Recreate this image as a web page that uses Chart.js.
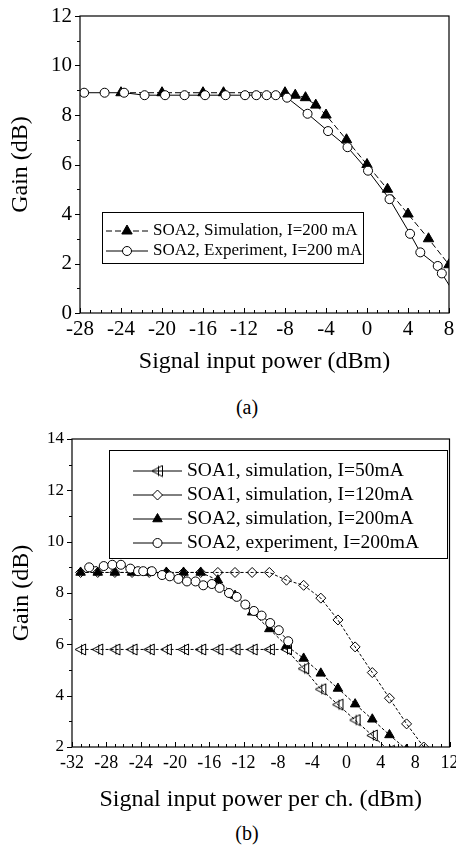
<!DOCTYPE html>
<html>
<head>
<meta charset="utf-8">
<script src="https://cdn.jsdelivr.net/npm/chart.js@4.4.0/dist/chart.umd.min.js"></script>
<style>
  body { margin: 0; background: #fff; overflow: hidden; }
  #page { position: relative; width: 456px; height: 845px; }
  #chartA { position: absolute; left: 0; top: 0; }
  #chartB { position: absolute; left: 0; top: 420px; }
  .cap { position: absolute; left: 217px; width: 60px; text-align: center;
         font: 20px "Liberation Serif", serif; line-height: 24px; }
</style>
</head>
<body>
<div id="page">
  <canvas id="chartA" width="456" height="378"></canvas>
  <div class="cap" style="top:395px">(a)</div>
  <canvas id="chartB" width="456" height="400"></canvas>
  <div class="cap" style="top:821px">(b)</div>
</div>
<script>
// ---- data (a): SOA2, I=200 mA
var simA_x = [-24, -20, -16, -14, -8, -7, -6, -5, -4, -2, 0, 2, 4, 6, 8]
var simA_y = [8.9, 8.9, 8.9, 8.9, 8.9, 8.8, 8.7, 8.4, 8.0, 7.0, 6.0, 5.0, 4.0, 3.0, 1.95]
var expA_x = [-27.6, -25.6, -23.7, -21.7, -19.7, -17.8, -15.8, -13.8, -11.9, -10.8, -9.8, -8.9, -7.8, -5.8, -3.8, -1.9, 0.1, 2.2, 4.2, 5.2, 6.9, 7.3, 8.5]
var expA_y = [8.9, 8.9, 8.9, 8.8, 8.8, 8.8, 8.8, 8.8, 8.8, 8.8, 8.8, 8.8, 8.7, 8.05, 7.35, 6.7, 5.75, 4.6, 3.2, 2.45, 1.9, 1.6, 0.8]
var xTicksA = [-28, -24, -20, -16, -12, -8, -4, 0, 4, 8]
var yTicksA = [0, 2, 4, 6, 8, 10, 12]

// ---- data (b)
var soa1_50_x = [-31, -29, -27, -25, -23, -21, -19, -17, -15, -13, -11, -9, -7, -5, -3, -1, 1, 3, 5]
var soa1_50_y = [5.8, 5.8, 5.8, 5.8, 5.8, 5.8, 5.8, 5.8, 5.8, 5.8, 5.8, 5.8, 5.8, 5.05, 4.25, 3.65, 3.05, 2.45, 1.85]
var soa1_120_x = [-31, -29, -27, -25, -23, -21, -19, -17, -15, -13, -11, -9, -7, -5, -3, -1, 1, 3, 5, 7, 9]
var soa1_120_y = [8.8, 8.8, 8.8, 8.8, 8.8, 8.8, 8.8, 8.8, 8.8, 8.8, 8.8, 8.8, 8.5, 8.3, 7.8, 6.95, 5.9, 4.9, 3.9, 2.9, 2.0]
var soa2_sim_x = [-31, -29, -27, -25, -23, -21, -19, -17, -15, -13, -11, -9, -7, -5, -3, -1, 1, 3, 5, 7]
var soa2_sim_y = [8.8, 8.8, 8.8, 8.8, 8.8, 8.8, 8.8, 8.8, 8.5, 7.9, 7.25, 6.6, 5.95, 5.45, 4.87, 4.28, 3.67, 3.08, 2.47, 1.9]
var soa2_exp_x = [-30, -28.3, -27.3, -26.3, -25.2, -24.3, -23.7, -22.7, -21.5, -20.6, -19.6, -18.6, -17.6, -16.7, -15.7, -14.8, -13.7, -12.8, -11.8, -10.8, -9.9, -8.9, -7.9, -6.8]
var soa2_exp_y = [9.0, 9.05, 9.1, 9.1, 8.95, 8.85, 8.85, 8.85, 8.7, 8.65, 8.55, 8.45, 8.45, 8.3, 8.35, 8.2, 8.0, 7.85, 7.55, 7.3, 7.12, 6.83, 6.55, 6.12]
var xTicksB = [-32, -28, -24, -20, -16, -12, -8, -4, 0, 4, 8, 12]
var yTicksB = [2, 4, 6, 8, 10, 12, 14]

Chart.defaults.font.family = '"Liberation Serif", "Times New Roman", serif'
Chart.defaults.color = '#000'

function pts(xs, ys) {
    return xs.map(function (x, i) { return { x: x, y: ys[i] } })
}

// open left triangle with a bar through it
function leftTri() {
    var c = document.createElement('canvas')
    c.width = 13; c.height = 13
    var g = c.getContext('2d')
    g.strokeStyle = '#000'
    g.lineWidth = 1
    g.beginPath()
    g.moveTo(1, 6.5); g.lineTo(11.5, 1); g.lineTo(11.5, 12); g.closePath()
    g.stroke()
    g.beginPath()
    g.moveTo(7.5, 1.5); g.lineTo(7.5, 11.5)
    g.stroke()
    return c
}

// frame + ticks (x inward, y outward)
var frameTicks = {
    id: 'frameTicks',
    afterDatasetsDraw(chart, args, o) {
        var ctx = chart.ctx, a = chart.chartArea
        var xs = chart.scales.x, ys = chart.scales.y
        ctx.save()
        ctx.strokeStyle = '#000'
        ctx.lineWidth = 1.2
        ctx.strokeRect(a.left, a.top, a.right - a.left, a.bottom - a.top)
        ctx.lineWidth = 1
        ctx.beginPath()
        for (var v = xs.min; v <= xs.max + 1e-6; v += 1) {
            var px = Math.round(xs.getPixelForValue(v)) + 0.5
            var len = (Math.abs(v - xs.min) % 4 < 1e-6) ? 5 : 3
            ctx.moveTo(px, a.bottom); ctx.lineTo(px, a.bottom - len)
        }
        for (var w = ys.min; w <= ys.max + 1e-6; w += 1) {
            var py = Math.round(ys.getPixelForValue(w)) + 0.5
            var l2 = (Math.abs(w - ys.min) % 2 < 1e-6) ? 5 : 3
            ctx.moveTo(a.left, py); ctx.lineTo(a.left - l2, py)
        }
        ctx.stroke()
        ctx.restore()
    }
}

var boxLegend = {
    id: 'boxLegend',
    afterDraw(chart, args, o) {
        var ctx = chart.ctx
        ctx.save()
        ctx.fillStyle = '#fff'
        ctx.fillRect(o.box[0], o.box[1], o.box[2] - o.box[0], o.box[3] - o.box[1])
        ctx.strokeStyle = '#000'
        ctx.lineWidth = 1
        ctx.strokeRect(o.box[0] + 0.5, o.box[1] + 0.5, o.box[2] - o.box[0], o.box[3] - o.box[1])
        ctx.font = o.font + 'px "Liberation Serif"'
        ctx.textBaseline = 'middle'
        chart.data.datasets.forEach(function (ds, row) {
            var y = o.rows[row]
            var mid = (o.line[0] + o.line[1]) / 2
            ctx.strokeStyle = '#000'
            ctx.lineWidth = 1
            ctx.setLineDash(o.solid ? [] : (ds.borderDash || []))
            ctx.beginPath(); ctx.moveTo(o.line[0], y); ctx.lineTo(o.line[1], y); ctx.stroke()
            ctx.setLineDash([])
            ctx.fillStyle = ds.pointBackgroundColor === '#000' ? '#000' : '#fff'
            Chart.helpers.drawPoint(ctx, {
                pointStyle: ds.pointStyle, rotation: 0,
                radius: ds.pointRadius, borderWidth: 1
            }, mid, y)
            ctx.fillStyle = '#000'
            ctx.fillText(ds.label, o.textX, y)
        })
        ctx.restore()
    }
}

function makeScales(xTicks, yTicks, xTitle, o) {
    return {
        x: {
            type: 'linear', min: xTicks[0], max: xTicks[xTicks.length - 1],
            afterBuildTicks: function (s) { s.ticks = xTicks.map(function (v) { return { value: v } }) },
            afterFit: function (s) { s.height = o.xh; s.paddingLeft = 0; s.paddingRight = 0 },
            grid: { display: false, drawTicks: false },
            border: { display: false },
            ticks: { font: { size: o.xf }, padding: o.xpad, maxRotation: 0, autoSkip: false,
                      callback: function (v) { return String(v) } },
            title: { display: true, text: xTitle, font: { size: 24 }, padding: { top: 0, bottom: o.tb } }
        },
        y: {
            type: 'linear', min: yTicks[0], max: yTicks[yTicks.length - 1],
            afterBuildTicks: function (s) { s.ticks = yTicks.map(function (v) { return { value: v } }) },
            afterFit: function (s) { s.width = o.yw; s.paddingTop = 0; s.paddingBottom = 0 },
            grid: { display: false, drawTicks: true, tickLength: 5 },
            border: { display: false },
            ticks: { font: { size: o.yf }, padding: 3, autoSkip: false,
                      callback: function (v) { return String(v) } },
            title: { display: true, text: 'Gain (dB)', font: { size: 24 }, padding: { top: o.yt, bottom: 0 } }
        }
    }
}

function series(label, xs, ys, style, fill, r, dash, order) {
    return {
        label: label, data: pts(xs, ys), showLine: true,
        borderColor: '#000', borderWidth: 1, borderDash: dash,
        pointStyle: style, pointRadius: r, pointHoverRadius: r,
        pointBackgroundColor: fill, pointBorderColor: '#000', pointBorderWidth: 1,
        order: order
    }
}

new Chart(document.getElementById('chartA'), {
    type: 'scatter',
    data: {
        datasets: [
            series('SOA2, Simulation, I=200 mA', simA_x, simA_y, 'triangle', '#000', 6, [6, 3], 1),
            series('SOA2, Experiment, I=200 mA', expA_x, expA_y, 'circle', '#fff', 4.5, [], 0)
        ]
    },
    options: {
        responsive: false, animation: false,
        layout: { padding: { top: 16, right: 6, left: 0, bottom: 0 } },
        scales: makeScales(xTicksA, yTicksA, 'Signal input power (dBm)',
            { xh: 65, xf: 21, xpad: 4, tb: 2, yw: 80, yf: 21, yt: 6 }),
        plugins: {
            legend: { display: false }, tooltip: { enabled: false },
            boxLegend: { box: [102, 212, 363, 263], rows: [231, 251], line: [106, 148], textX: 153, font: 17 }
        }
    },
    plugins: [frameTicks, boxLegend]
})

new Chart(document.getElementById('chartB'), {
    type: 'scatter',
    data: {
        datasets: [
            series('SOA1, simulation, I=50mA', soa1_50_x, soa1_50_y, leftTri(), 'rgba(0,0,0,0)', 5, [3, 2], 3),
            series('SOA1, simulation, I=120mA', soa1_120_x, soa1_120_y, 'rectRot', 'rgba(0,0,0,0)', 5, [3, 2], 2),
            series('SOA2, simulation, I=200mA', soa2_sim_x, soa2_sim_y, 'triangle', '#000', 5.5, [3, 2], 1),
            series('SOA2, experiment, I=200mA', soa2_exp_x, soa2_exp_y, 'circle', '#fff', 4.5, [3, 2], 0)
        ]
    },
    options: {
        responsive: false, animation: false,
        layout: { padding: { top: 19, right: 6, left: 0, bottom: 0 } },
        scales: makeScales(xTicksB, yTicksB, 'Signal input power per ch. (dBm)',
            { xh: 73, xf: 18, xpad: 5, tb: 6, yw: 72, yf: 17, yt: 7 }),
        plugins: {
            legend: { display: false }, tooltip: { enabled: false },
            boxLegend: { box: [109, 30, 447, 138], rows: [51, 75, 99, 123], line: [133, 182], textX: 187, font: 19.5, solid: true }
        }
    },
    plugins: [frameTicks, boxLegend]
})
</script>
</body>
</html>
